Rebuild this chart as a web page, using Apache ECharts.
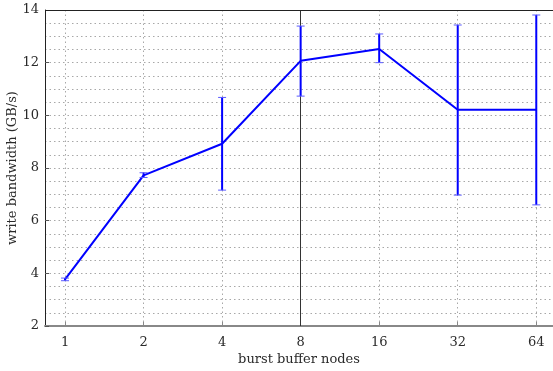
<!DOCTYPE html>
<html>
<head>
<meta charset="utf-8">
<script src="https://cdn.jsdelivr.net/npm/echarts@6/dist/echarts.min.js"></script>
<style>
  html, body { margin: 0; padding: 0; background: #fff; }
  #chart { width: 553px; height: 371px; }
</style>
</head>
<body>
<div id="chart"></div>
<script>
// Write bandwidth vs. number of burst buffer nodes (mean with min/max spread)
const nodes = [1, 2, 4, 8, 16, 32, 64];
const bandwidth = [3.77, 7.72, 8.92, 12.07, 12.52, 10.21, 10.21];
const errLow = [3.72, 7.64, 7.16, 10.73, 12.0, 6.97, 6.6];
const errHigh = [3.82, 7.82, 10.68, 13.39, 13.09, 13.43, 13.81];
const yTicks = [2, 4, 6, 8, 10, 12, 14];
const markerNodes = 8;

const FONT = 'DejaVu Serif';
const BLUE = '#0000ff';

// nodes are plotted on a base-2 log scale
const xPos = nodes.map(n => Math.log2(n));
const lineData = xPos.map((x, i) => [x, bandwidth[i]]);
const errData = xPos.map((x, i) => [x, errLow[i], errHigh[i]]);

const chart = echarts.init(document.getElementById('chart'), null, { renderer: 'canvas' });

const dotted = { color: '#a8a8a8', type: [1.5, 3], width: 1 };
const textStyle = { fontFamily: FONT, fontSize: 13, color: '#2a2a2a' };

chart.setOption({
  animation: false,
  backgroundColor: '#fff',
  grid: { left: 45, top: 10, right: 0, bottom: 45, containLabel: false, outerBoundsMode: 'none' },
  xAxis: {
    type: 'value',
    min: -0.255,
    max: 6.213,
    name: 'burst buffer nodes',
    nameLocation: 'middle',
    nameGap: 27,
    nameMoveOverlap: false,
    nameTextStyle: textStyle,
    axisLine: { show: true, onZero: false, lineStyle: { color: '#888', width: 2 } },
    axisTick: { show: true, inside: true, length: 4, customValues: xPos, lineStyle: { color: '#888' } },
    axisLabel: Object.assign({
      customValues: xPos,
      formatter: v => String(Math.round(Math.pow(2, v))),
      margin: 10
    }, textStyle),
    splitLine: { show: true, lineStyle: dotted }
  },
  yAxis: {
    type: 'value',
    min: yTicks[0],
    max: yTicks[yTicks.length - 1],
    interval: 2,
    name: 'write bandwidth (GB/s)',
    nameLocation: 'middle',
    nameGap: 26,
    nameMoveOverlap: false,
    nameRotate: 90,
    nameTextStyle: textStyle,
    axisLine: { show: true, onZero: false, lineStyle: { color: '#222', width: 1 } },
    axisTick: { show: true, inside: true, length: 4, lineStyle: { color: '#555' } },
    axisLabel: Object.assign({ margin: 6 }, textStyle),
    splitLine: { show: true, lineStyle: dotted },
    minorTick: { show: false, splitNumber: 4 },
    minorSplitLine: { show: true, lineStyle: dotted }
  },
  series: [
    {
      // vertical reference line at 8 nodes
      type: 'line',
      data: [],
      z: 1,
      markLine: {
        silent: true,
        symbol: 'none',
        label: { show: false },
        lineStyle: { color: '#333', type: 'solid', width: 1 },
        data: [{ xAxis: Math.log2(markerNodes) }]
      }
    },
    {
      type: 'line',
      data: lineData,
      symbol: 'none',
      lineStyle: { color: BLUE, width: 2 },
      z: 5
    },
    {
      type: 'custom',
      data: errData,
      z: 6,
      renderItem: function (params, api) {
        const x = api.value(0);
        const lo = api.coord([x, api.value(1)]);
        const hi = api.coord([x, api.value(2)]);
        const cap = 4;
        const style = { stroke: BLUE, lineWidth: 2 };
        const capStyle = { stroke: '#5a5aff', lineWidth: 1 };
        return {
          type: 'group',
          children: [
            { type: 'line', shape: { x1: lo[0], y1: lo[1], x2: hi[0], y2: hi[1] }, style: style },
            { type: 'line', shape: { x1: hi[0] - cap, y1: hi[1], x2: hi[0] + cap, y2: hi[1] }, style: capStyle },
            { type: 'line', shape: { x1: lo[0] - cap, y1: lo[1], x2: lo[0] + cap, y2: lo[1] }, style: capStyle }
          ]
        };
      }
    }
  ],
  graphic: [
    // top frame edge
    {
      type: 'line',
      shape: { x1: 45, y1: 10.5, x2: 553, y2: 10.5 },
      style: { stroke: '#222', lineWidth: 1 },
      z: 10
    }
  ]
});
</script>
</body>
</html>
